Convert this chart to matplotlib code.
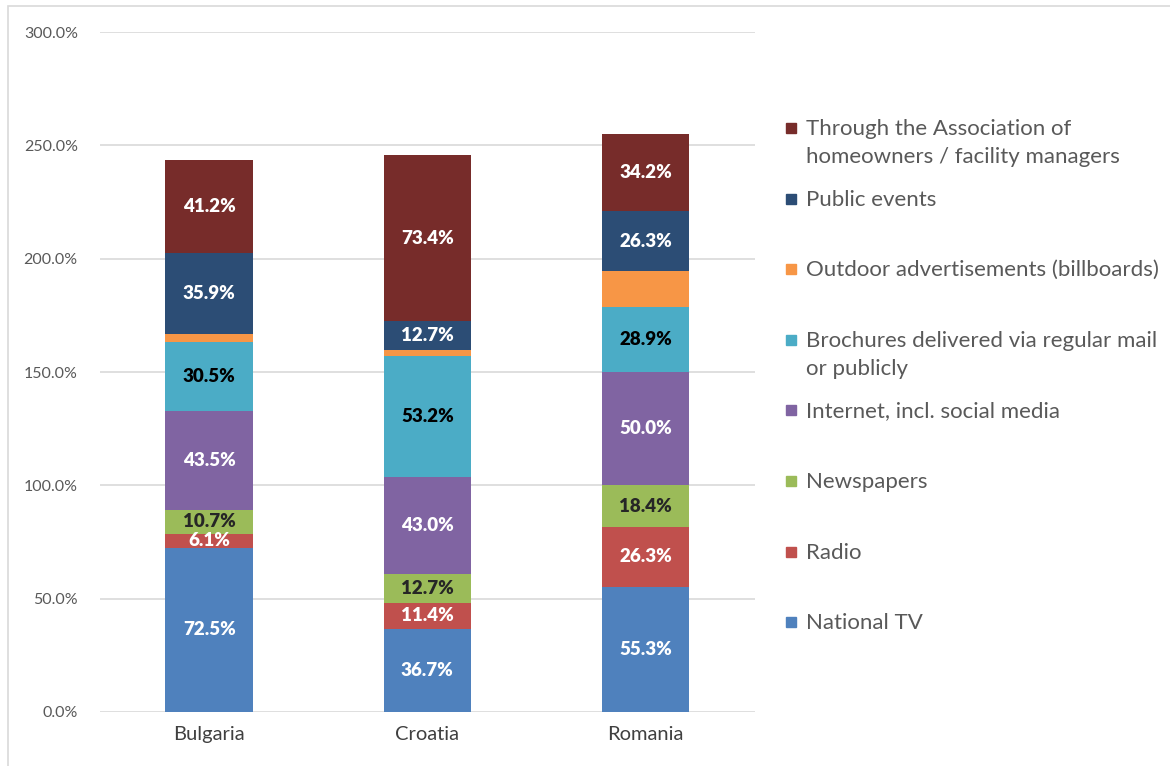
import matplotlib.pyplot as plt
import numpy as np
from matplotlib.patches import Rectangle

plt.rcParams['font.family'] = ['Lato', 'DejaVu Sans']

countries = ["Bulgaria", "Croatia", "Romania"]
series = ["National TV", "Radio", "Newspapers", "Internet, incl. social media",
          "Brochures delivered via regular mail\nor publicly",
          "Outdoor advertisements (billboards)", "Public events",
          "Through the Association of\nhomeowners / facility managers"]
national_tv = [72.5, 36.7, 55.3]
radio = [6.1, 11.4, 26.3]
newspapers = [10.7, 12.7, 18.4]
internet = [43.5, 43.0, 50.0]
brochures = [30.5, 53.2, 28.9]
outdoor = [3.3, 2.7, 15.7]
public_events = [35.9, 12.7, 26.3]
association = [41.2, 73.4, 34.2]

values = [national_tv, radio, newspapers, internet, brochures, outdoor, public_events, association]
colors = ["#4F81BD", "#C0504D", "#9BBB59", "#8064A2", "#4BACC6", "#F79646", "#2C4D75", "#772C2A"]
label_colors = ["white", "white", "#262626", "white", "black", None, "white", "white"]

W, H = 1170, 766
fig = plt.figure(figsize=(W / 100, H / 100), dpi=100)
ax = fig.add_axes([0.0855, 0.0705, 0.5595, 0.8875])
fig.patches.append(Rectangle((0.007, -0.01), 1.2, 1.002, transform=fig.transFigure,
                             fill=False, edgecolor="#D9D9D9", lw=1.2))

x = np.arange(len(countries))
bottom = np.zeros(len(countries))
for vals, col, lc, name in zip(values, colors, label_colors, series):
    vals = np.array(vals)
    ax.bar(x, vals, 0.4, bottom=bottom, color=col, label=name, zorder=3)
    if lc is not None:
        for xi, v, bt in zip(x, vals, bottom):
            ax.text(xi, bt + v / 2, f"{v:.1f}%", ha="center", va="center",
                    color=lc, fontsize=13.5, fontweight="heavy", zorder=4)
    bottom += vals

ax.set_xlim(-0.5, 2.5)
ax.set_ylim(0, 300)
ax.set_yticks(np.arange(0, 301, 50))
ax.set_yticklabels([f"{t:.1f}%" for t in np.arange(0, 301, 50)])
ax.set_xticks(x)
ax.set_xticklabels(countries, fontsize=14.5)
ax.tick_params(axis="y", length=0, pad=16, labelsize=11.5, labelcolor="#595959")
ax.tick_params(axis="x", length=0, pad=10, labelcolor="#404040")
ax.grid(axis="y", color="#D9D9D9", lw=1.2, zorder=0)
for s in ax.spines.values():
    s.set_visible(False)

# legend, Excel style: entries on an even pitch, wrapped lines hang below
for i, (name, col) in enumerate(zip(series[::-1], colors[::-1])):
    y0 = 128 + i * 70.6
    fig.patches.append(Rectangle((786 / W, 1 - (y0 + 5) / H), 10 / W, 10 / H,
                                 transform=fig.transFigure, color=col))
    for j, line in enumerate(name.split("\n")):
        fig.text(806 / W, 1 - (y0 + 1 + j * 28) / H, line, ha="left", va="center",
                 fontsize=16, color="#595959")

fig.savefig("out.png", dpi=100)
